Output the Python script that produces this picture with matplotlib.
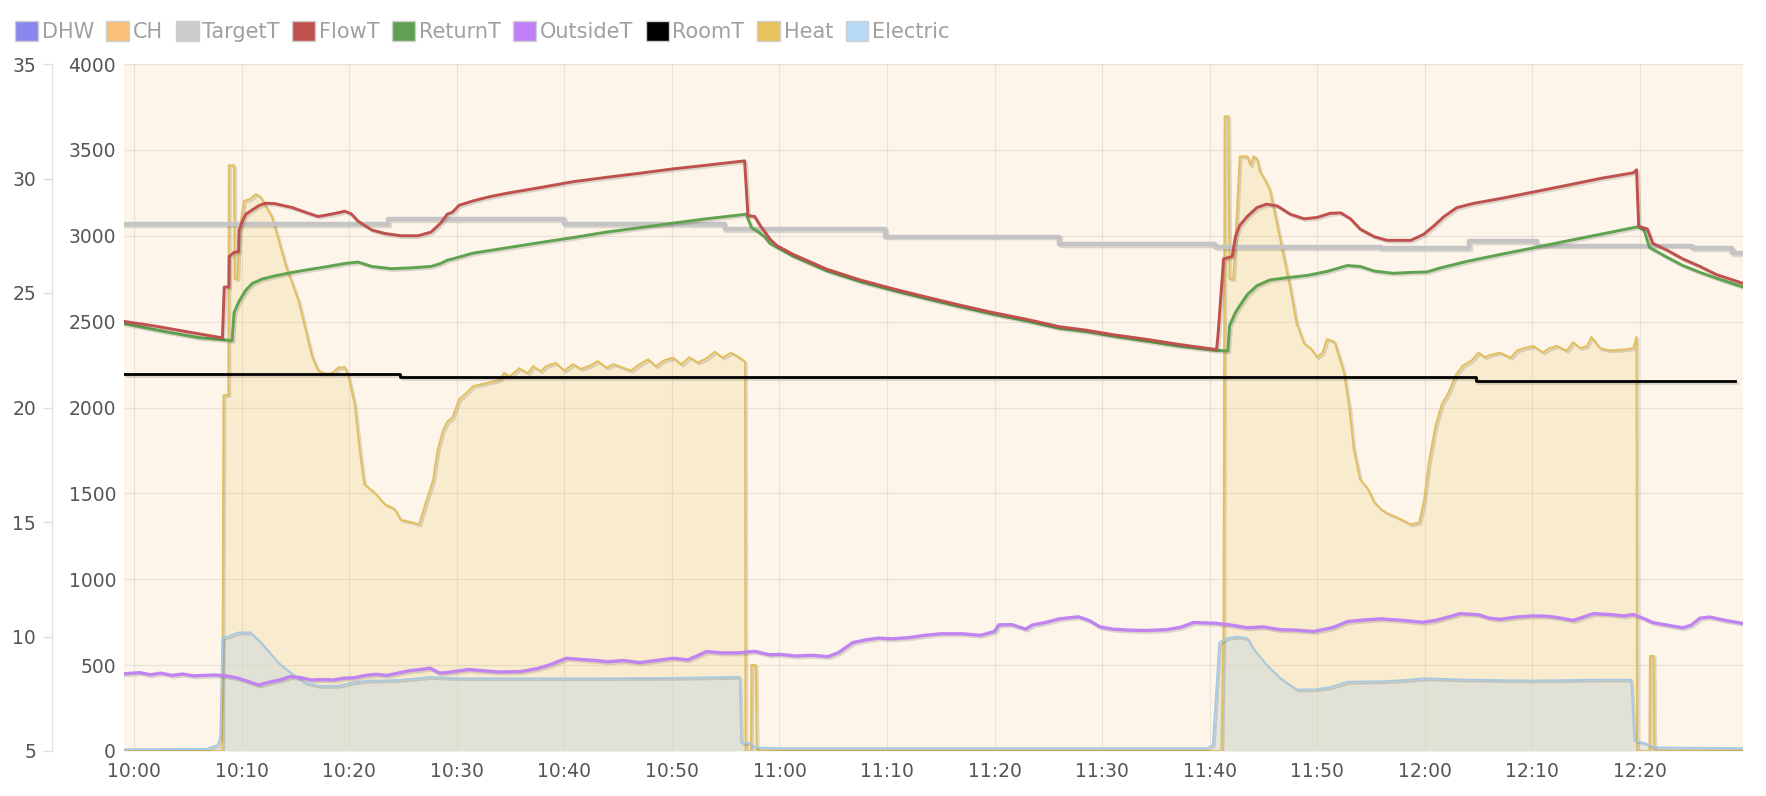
import matplotlib
matplotlib.use('Agg')
import matplotlib.pyplot as plt
import matplotlib.patheffects as pe
from matplotlib.patches import Patch
import numpy as np

plt.rcParams['font.family'] = ['DejaVu Sans']

# ---------------- data (x = minutes after 10:00) ----------------
x_tick_labels = ["10:00", "10:10", "10:20", "10:30", "10:40", "10:50", "11:00", "11:10",
                 "11:20", "11:30", "11:40", "11:50", "12:00", "12:10", "12:20"]
x_start, x_end = -0.95, 149.6

ch_t = [-0.95, 149.6]
ch = [1, 1]

flow_t = [-0.95, 2, 5, 8.2, 8.37, 8.8, 8.83, 9.3, 9.7, 9.75, 10.06, 10.37, 10.98, 11.6, 12.2, 13.1,
          14.7, 15.9, 17.1, 18.4, 19.6, 20.2, 20.8, 22.1, 23.3, 24.8, 26.4, 27.6, 28.5, 29.1, 29.6,
          30.2, 31.5, 33.0, 34.6, 37.7, 40.8, 43.9, 47.0, 50.1, 53.2, 56.76, 57.07, 57.7, 58.2, 59.1,
          59.75, 61.3, 64.4, 67.5, 70.6, 73.6, 76.7, 79.8, 82.9, 86.0, 88.5, 91.0, 94.1, 97.2, 100.65,
          100.8, 101.3, 102.1, 102.4, 102.8, 103.5, 104.4, 105.3, 106.3, 107.5, 108.8, 110.0, 111.2,
          112.2, 113.1, 114.0, 115.3, 116.5, 118.7, 119.9, 120.9, 121.8, 123.0, 124.6, 127.0, 130.1,
          133.2, 136.3, 139.4, 139.7, 139.9, 140.7, 141.2, 142.5, 144.0, 145.6, 147.1, 149.6]
flow = [23.76, 23.55, 23.3, 23.04, 25.26, 25.26, 26.59, 26.78, 26.8, 27.75, 28.14, 28.44, 28.63, 28.82,
        28.92, 28.9, 28.73, 28.53, 28.34, 28.45, 28.57, 28.45, 28.14, 27.75, 27.6, 27.5, 27.5, 27.66,
        28.05, 28.44, 28.53, 28.83, 29.02, 29.2, 29.35, 29.6, 29.86, 30.05, 30.23, 30.42, 30.58, 30.77,
        28.38, 28.34, 27.95, 27.36, 27.07, 26.68, 26.04, 25.57, 25.18, 24.83, 24.48, 24.15, 23.86, 23.53,
        23.38, 23.18, 22.98, 22.75, 22.53, 23.27, 26.49, 26.59, 27.46, 27.95, 28.34, 28.73, 28.88, 28.8,
        28.44, 28.24, 28.3, 28.48, 28.5, 28.24, 27.79, 27.46, 27.3, 27.3, 27.56, 27.95, 28.34, 28.73,
        28.92, 29.12, 29.41, 29.7, 30.0, 30.25, 30.38, 27.91, 27.8, 27.17, 26.88, 26.49, 26.16, 25.81,
        25.42]

return_t = [-0.95, 3, 6, 9.1, 9.29, 9.75, 10.37, 10.98, 11.9, 13.1, 14.7, 15.9, 17.8, 19.6, 20.8, 22.1,
            23.9, 25.8, 27.6, 28.5, 29.1, 29.6, 31.5, 34.6, 37.7, 40.8, 43.9, 47.0, 50.1, 53.2, 56.9,
            57.4, 57.8, 58.6, 59.1, 59.75, 61.3, 64.4, 67.5, 70.6, 73.6, 76.7, 79.8, 82.9, 86.0, 88.5,
            91.0, 94.1, 97.2, 100.5, 101.7, 101.85, 102.4, 102.8, 103.5, 104.4, 105.6, 107.2, 109.1,
            110.9, 112.8, 114.0, 115.3, 117.1, 118.7, 120.2, 121.5, 124.0, 127.0, 130.1, 133.2, 136.3,
            139.8, 140.4, 140.9, 142.5, 144.0, 145.6, 147.1, 149.6]
return_ = [23.66, 23.3, 23.05, 22.92, 24.15, 24.64, 25.12, 25.42, 25.61, 25.75, 25.9, 26.0, 26.14, 26.29,
           26.35, 26.16, 26.06, 26.1, 26.16, 26.29, 26.43, 26.49, 26.74, 26.97, 27.2, 27.42, 27.66, 27.85,
           28.05, 28.24, 28.44, 27.85, 27.75, 27.46, 27.17, 27.0, 26.6, 25.97, 25.5, 25.11, 24.76, 24.41,
           24.08, 23.79, 23.46, 23.32, 23.12, 22.9, 22.68, 22.5, 22.47, 23.57, 24.15, 24.44, 24.93, 25.32,
           25.57, 25.67, 25.77, 25.94, 26.2, 26.16, 25.96, 25.86, 25.9, 25.92, 26.1, 26.39, 26.68, 26.97,
           27.27, 27.56, 27.89, 27.75, 26.99, 26.57, 26.2, 25.9, 25.65, 25.26]

target_t = [-0.95, 23.6, 40.0, 54.9, 69.8, 86.0, 100.5, 115.9, 124.1, 130.4, 144.9, 148.6, 149.6]
target = [28.02, 28.22, 28.02, 27.8, 27.46, 27.13, 27.01, 26.95, 27.27, 27.07, 26.97, 26.74, 26.74]

room_t = [-0.95, 24.7, 124.8, 148.9]
room = [21.45, 21.32, 21.17, 21.17]

outside_t = [-0.95, 0.5, 1.5, 2.5, 3.5, 4.5, 5.5, 6.5, 7.5, 8.5, 9.5, 10.5, 11.6, 12.5, 13.5, 14.5, 15.5,
             16.5, 17.5, 18.5, 19.5, 20.5, 21.5, 22.5, 23.5, 24.5, 25.5, 26.5, 27.5, 28.4, 29.5, 31.1,
             32.5, 34.0, 36.0, 37.5, 38.6, 40.2, 41.5, 43.0, 44.0, 45.5, 47.0, 48.5, 50.1, 51.5, 53.2,
             54.8, 56.3, 57.7, 59.1, 60.0, 61.5, 63.0, 64.5, 65.5, 66.8, 68.0, 69.2, 70.5, 72.0, 73.5,
             75.0, 77.0, 78.7, 80.0, 80.4, 81.6, 82.9, 83.5, 84.8, 86.0, 87.8, 88.8, 89.8, 91.0, 92.5,
             94.1, 96.0, 97.3, 98.5, 100.5, 102.0, 103.5, 105.0, 106.5, 108.0, 109.7, 111.5, 112.8, 114.3,
             115.9, 117.8, 119.8, 121.0, 122.2, 123.3, 125.0, 126.0, 127.0, 128.5, 130.1, 131.5, 132.7,
             133.8, 135.7, 137.5, 138.5, 139.4, 140.3, 141.2, 142.5, 144.0, 144.8, 145.6, 146.5, 148.0,
             149.6]
outside = [8.37, 8.42, 8.33, 8.4, 8.3, 8.36, 8.28, 8.3, 8.32, 8.28, 8.2, 8.05, 7.88, 8.0, 8.1, 8.25, 8.2,
           8.1, 8.12, 8.1, 8.18, 8.2, 8.3, 8.35, 8.3, 8.4, 8.5, 8.55, 8.62, 8.4, 8.45, 8.56, 8.5, 8.45,
           8.47, 8.6, 8.76, 9.05, 9.0, 8.95, 8.9, 8.95, 8.86, 8.95, 9.05, 8.98, 9.34, 9.28, 9.29, 9.35,
           9.2, 9.22, 9.15, 9.18, 9.12, 9.3, 9.73, 9.85, 9.93, 9.9, 9.95, 10.05, 10.12, 10.12, 10.05, 10.22,
           10.51, 10.52, 10.32, 10.5, 10.62, 10.77, 10.86, 10.7, 10.42, 10.32, 10.28, 10.26, 10.3, 10.4,
           10.61, 10.58, 10.5, 10.38, 10.42, 10.3, 10.28, 10.22, 10.4, 10.65, 10.72, 10.77, 10.71, 10.62,
           10.7, 10.85, 11.0, 10.95, 10.8, 10.75, 10.85, 10.9, 10.88, 10.8, 10.7, 11.0, 10.95, 10.9, 10.96,
           10.8, 10.61, 10.5, 10.38, 10.5, 10.8, 10.85, 10.7, 10.57]

heat_t = [-0.95, 8.2, 8.3, 8.75, 8.8, 9.29, 9.35, 9.6, 9.75, 10.2, 10.8, 11.3, 11.7, 12.2, 12.8, 13.4,
          14.1, 14.7, 15.3, 15.9, 16.5, 17.1, 17.8, 18.4, 19.0, 19.6, 19.9, 20.5, 21.0, 21.4, 22.4, 23.3,
          24.2, 24.8, 25.8, 26.5, 27.0, 27.8, 28.2, 28.7, 29.1, 29.6, 30.2, 30.9, 31.5, 32.4, 33.3, 34.0,
          34.4, 34.9, 35.8, 36.6, 37.1, 37.8, 38.3, 39.2, 40.0, 40.8, 41.5, 42.3, 43.1, 43.9, 44.6, 45.4,
          46.2, 47.0, 47.8, 48.5, 49.3, 50.1, 50.9, 51.6, 52.4, 53.2, 54.0, 54.7, 55.5, 56.3, 56.8, 56.85,
          57.35, 57.4, 57.8, 57.9, 101.1, 101.3, 101.4, 101.75, 101.85, 102.2, 102.5, 102.8, 103.5, 103.8,
          104.1, 104.4, 104.7, 105.2, 105.6, 106.3, 106.9, 107.5, 108.1, 108.8, 109.4, 110.0, 110.5,
          110.9, 111.6, 112.0, 112.5, 113.0, 113.4, 114.0, 114.7, 115.3, 115.9, 116.5, 117.5, 118.7,
          119.5, 119.95, 120.4, 121.0, 121.6, 122.2, 122.9, 123.5, 124.4, 125.0, 125.6, 126.1, 127.0,
          128.0, 128.6, 129.2, 130.1, 131.0, 131.6, 132.3, 133.2, 133.8, 134.5, 135.1, 135.5, 136.3,
          137.2, 138.4, 139.4, 139.7, 139.75, 140.9, 140.95, 141.3, 141.35, 149.6]
heat = [0, 0, 2072, 2072, 3410, 3410, 2748, 2748, 3007, 3202, 3215, 3241, 3230, 3176, 3111, 2981, 2826,
        2722, 2618, 2462, 2306, 2215, 2197, 2200, 2233, 2233, 2189, 2020, 1735, 1553, 1501, 1436, 1410,
        1345, 1332, 1319, 1423, 1579, 1748, 1865, 1916, 1943, 2046, 2085, 2124, 2137, 2150, 2160, 2202,
        2180, 2228, 2200, 2241, 2210, 2241, 2259, 2215, 2252, 2225, 2241, 2270, 2232, 2252, 2232, 2215,
        2252, 2280, 2240, 2275, 2290, 2250, 2293, 2262, 2285, 2325, 2290, 2319, 2290, 2267, 0, 0, 501, 501,
        0, 0, 735, 3695, 3695, 2748, 2748, 3085, 3462, 3462, 3410, 3462, 3449, 3371, 3319, 3267, 3059,
        2877, 2696, 2488, 2371, 2345, 2293, 2319, 2397, 2384, 2306, 2202, 1994, 1761, 1579, 1527, 1449,
        1410, 1384, 1358, 1319, 1330, 1462, 1683, 1891, 2020, 2085, 2189, 2241, 2275, 2319, 2293, 2306,
        2319, 2290, 2332, 2345, 2358, 2320, 2345, 2358, 2330, 2379, 2345, 2358, 2410, 2345, 2332, 2337,
        2345, 2410, 0, 0, 553, 553, 0, 0]

elec_t = [-0.95, 6.7, 7.75, 8.0, 8.2, 8.83, 9.75, 10.8, 11.6, 12.5, 13.4, 14.7, 15.9, 17.1, 19.0, 20.2,
          21.8, 23.3, 24.8, 26.4, 27.6, 29.1, 31.0, 37.0, 43.0, 50.0, 56.3, 56.45, 57.2, 57.8, 60.0, 99.7,
          100.3, 100.9, 101.6, 102.5, 103.5, 104.1, 105.3, 106.6, 108.1, 109.7, 111.2, 112.8, 115.9,
          118.7, 120.0, 124.0, 130.0, 136.0, 139.2, 139.5, 140.4, 141.4, 149.6]
elec = [10, 12, 34, 80, 657, 670, 690, 690, 644, 579, 514, 449, 397, 379, 379, 397, 410, 410, 415, 423, 431,
        425, 423, 423, 423, 425, 431, 47, 47, 21, 16, 16, 34, 631, 657, 665, 657, 592, 501, 423, 358, 358,
        371, 403, 405, 415, 423, 415, 410, 415, 415, 60, 47, 21, 16]

legend_labels = ["DHW", "CH", "TargetT", "FlowT", "ReturnT", "OutsideT", "RoomT", "Heat", "Electric"]
legend_colors = ["#8888ee", "#f8c078", "#cccccc", "#c0504d", "#60a050", "#c080f8", "#000000",
                 "#e8c25a", "#b8d8f8"]
col = dict(zip(legend_labels, legend_colors))

# ---------------- figure ----------------
W, H = 1766, 796
PT = 0.72  # points per pixel at dpi 100
fig = plt.figure(figsize=(W / 100, H / 100), dpi=100)
L, R, T, B = 124, 1743, 64, 751
ax = fig.add_axes([L / W, 1 - B / H, (R - L) / W, (B - T) / H])
ax_t = ax.twinx()

shadow = [pe.SimpleLineShadow(offset=(1.3, -1.3), shadow_color='black', alpha=0.13), pe.Normal()]

# power axis series
ax.fill_between(ch_t, 0, np.array(ch) * 4000, color=col["CH"], alpha=0.155, lw=0, zorder=0.4)
ax.fill_between(heat_t, 0, heat, color=col["Heat"], alpha=0.19, lw=0, zorder=1)
ax.plot(heat_t, heat, color='#e2c060', lw=1.5, zorder=2, path_effects=shadow)
ax.fill_between(elec_t, 0, elec, color='#cfdcdc', alpha=0.55, lw=0, zorder=1.2)
ax.plot(elec_t, elec, color='#a9c9e2', lw=1.4, zorder=2.1, path_effects=shadow)

ax.set_xlim(x_start, x_end)
ax.set_ylim(0, 4000)
ax.set_yticks(np.arange(0, 4001, 500))
ax.set_yticklabels([str(v) for v in range(0, 4001, 500)])
ax.set_xticks(np.arange(0, 141, 10))
ax.set_xticklabels(x_tick_labels)
ax.set_axisbelow(True)
ax.grid(True, color='#000000', alpha=0.075, lw=0.9)
for s in ax.spines.values():
    s.set_visible(False)
ax.tick_params(axis='y', length=0, pad=8 * PT, labelsize=13.5, labelcolor='#555555')
ax.tick_params(axis='x', length=0, pad=11 * PT, labelsize=13.5, labelcolor='#555555')

# temperature axis series
ax_t.plot(target_t, target, color='#c4c4c4', lw=3.2, drawstyle='steps-post', zorder=2, path_effects=shadow)
ax_t.plot(room_t, room, color='#000000', lw=2.0, drawstyle='steps-post', zorder=3, path_effects=shadow)
ax_t.plot(outside_t, outside, color='#c084f0', lw=2.4, zorder=3, path_effects=shadow)
ax_t.plot(return_t, return_, color='#5fa24f', lw=2.1, zorder=4, path_effects=shadow)
ax_t.plot(flow_t, flow, color='#c0504d', lw=2.1, zorder=5, path_effects=shadow)

ax_t.set_ylim(5, 35)
ax_t.set_yticks(np.arange(5, 36, 5))
ax_t.set_yticklabels([str(v) for v in range(5, 36, 5)])
ax_t.yaxis.set_ticks_position('left')
ax_t.yaxis.set_label_position('left')
for k in ['top', 'right', 'bottom']:
    ax_t.spines[k].set_visible(False)
ax_t.spines['left'].set_visible(True)
ax_t.spines['left'].set_position(('outward', (L - 52) * PT))
ax_t.spines['left'].set_color('#e4e4e4')
ax_t.spines['left'].set_linewidth(1.0)
ax_t.tick_params(axis='y', length=9 * PT, width=1.0, color='#e0e0e0', pad=7 * PT, labelsize=13.5,
                 labelcolor='#555555')

# legend
handles = [Patch(facecolor=c, edgecolor='#cfcfcf', linewidth=1.0) for c in legend_colors]
leg = fig.legend(handles, legend_labels, loc='upper left', bbox_to_anchor=(15 / W, 1 - 21 / H),
                 ncol=len(legend_labels), frameon=False, fontsize=15, handlelength=1.1,
                 handleheight=1.1, handletextpad=0.18, columnspacing=0.6, borderpad=0,
                 borderaxespad=0)
for t in leg.get_texts():
    t.set_color('#a0a0a0')

fig.savefig('out.png', dpi=100, facecolor='white')
